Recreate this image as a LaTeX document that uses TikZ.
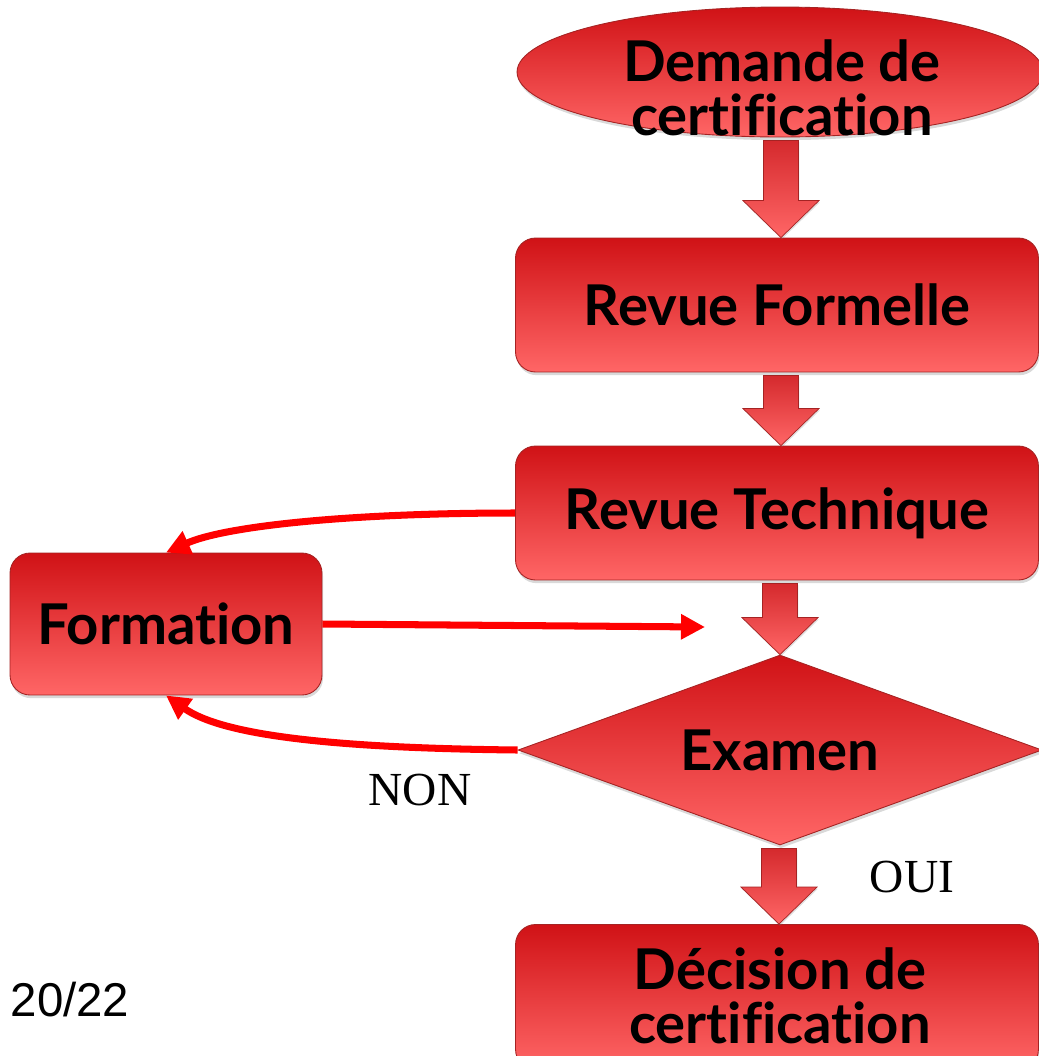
\documentclass[tikz,border=0pt]{standalone}
\usepackage{fontspec}
\newfontfamily\boxfont[Ligatures=NoCommon]{Lato}
\newfontfamily\labfont{Liberation Serif}
\newfontfamily\pagefont{Liberation Sans}
\usetikzlibrary{shapes.geometric,arrows.meta,shadows,calc}
\definecolor{rtop}{RGB}{208,18,22}
\definecolor{rbot}{RGB}{255,102,102}
\definecolor{redge}{RGB}{165,35,35}
\definecolor{conn}{RGB}{255,0,0}
\tikzset{
  boxtext/.style={font=\boxfont\bfseries\fontsize{32}{31}\selectfont, text=black, align=center},
  redshape/.style={top color=rtop, bottom color=rbot, draw=redge, line width=0.5pt,
    drop shadow={opacity=0.3,shadow xshift=0.6pt,shadow yshift=-1.8pt},
    boxtext, inner sep=0pt},
  procbox/.style={redshape, rectangle, rounded corners=0.4cm},
  startnode/.style={redshape, ellipse},
  decnode/.style={redshape, diamond, shape aspect=2.76},
  bigarrow/.style={top color=rtop!90!white, bottom color=rbot, draw=redge, line width=0.4pt,
    drop shadow={opacity=0.25,shadow xshift=0.5pt,shadow yshift=-1pt}},
  link/.style={draw=conn, line width=4pt, -{Triangle[length=0.48cm,width=0.48cm]}},
  lab/.style={font=\labfont\fontsize{27}{27}\selectfont, text=black, inner sep=0pt}
}
\newcommand{\flowarrow}[2]{%
  \path[bigarrow] let \p1=(#1), \p2=(#2) in
    (\x2-0.35cm,\y1) -- (\x2+0.35cm,\y1) -- (\x2+0.35cm,\y2+0.74cm) -- (\x2+0.76cm,\y2+0.74cm)
    -- (\x2,\y2) -- (\x2-0.76cm,\y2+0.74cm) -- (\x2-0.35cm,\y2+0.74cm) -- cycle;}
\begin{document}
\begin{tikzpicture}[x=0.02cm,y=-0.02cm]
\useasboundingbox (0,0) rectangle (1039,1056);
\node[startnode, minimum width=10.52cm, minimum height=2.6cm] (dem) at (780,72) {};
\node[boxtext, inner sep=0pt] (demtxt) at (782,88) {Demande de\\certification};
\node[procbox, minimum width=10.46cm, minimum height=2.68cm] (rf) at (777,305) {Revue Formelle};
\node[procbox, minimum width=10.46cm, minimum height=2.68cm] (rt) at (777,513) {Revue Technique};
\node[decnode, minimum width=10.48cm, minimum height=3.8cm] (ex) at (780,750) {Examen};
\node[procbox, minimum width=10.46cm, minimum height=2.9cm] (dc) at (777,997) {};
\node[boxtext, inner sep=0pt] (dctxt) at (780,996) {D\'ecision de\\certification};
\node[procbox, minimum width=6.24cm, minimum height=2.84cm] (form) at (166,624) {Formation};
\coordinate (a1s) at ([yshift=-3*0.02cm]dem.south);
\coordinate (a2s) at ([yshift=-3*0.02cm]rf.south);
\coordinate (a3s) at ([yshift=-3*0.02cm]rt.south);
\coordinate (a4s) at ([yshift=-3*0.02cm]ex.south);
\flowarrow{a1s}{[xshift=0.08cm]rf.north}
\flowarrow{a2s}{[xshift=0.08cm]rf.south |- rt.north}
\flowarrow{a3s}{ex.north}
\flowarrow{a4s}{[xshift=0.04cm]dc.north}
\coordinate (fend) at (705,627);
\draw[link] (rt.west) .. controls (350,513) and (225,526) .. (form.north);
\draw[link] (form.east) -- (fend);
\draw[link] (ex.west) .. controls (330,748) and (222,735) .. (form.south);
\node[lab] (non) at (420,790) {NON};
\node[lab] (oui) at (912,877) {OUI};
\node[font=\pagefont\fontsize{27}{27}\selectfont, inner sep=0pt] (pg) at (70,1000) {20/22};
\end{tikzpicture}
\end{document}
